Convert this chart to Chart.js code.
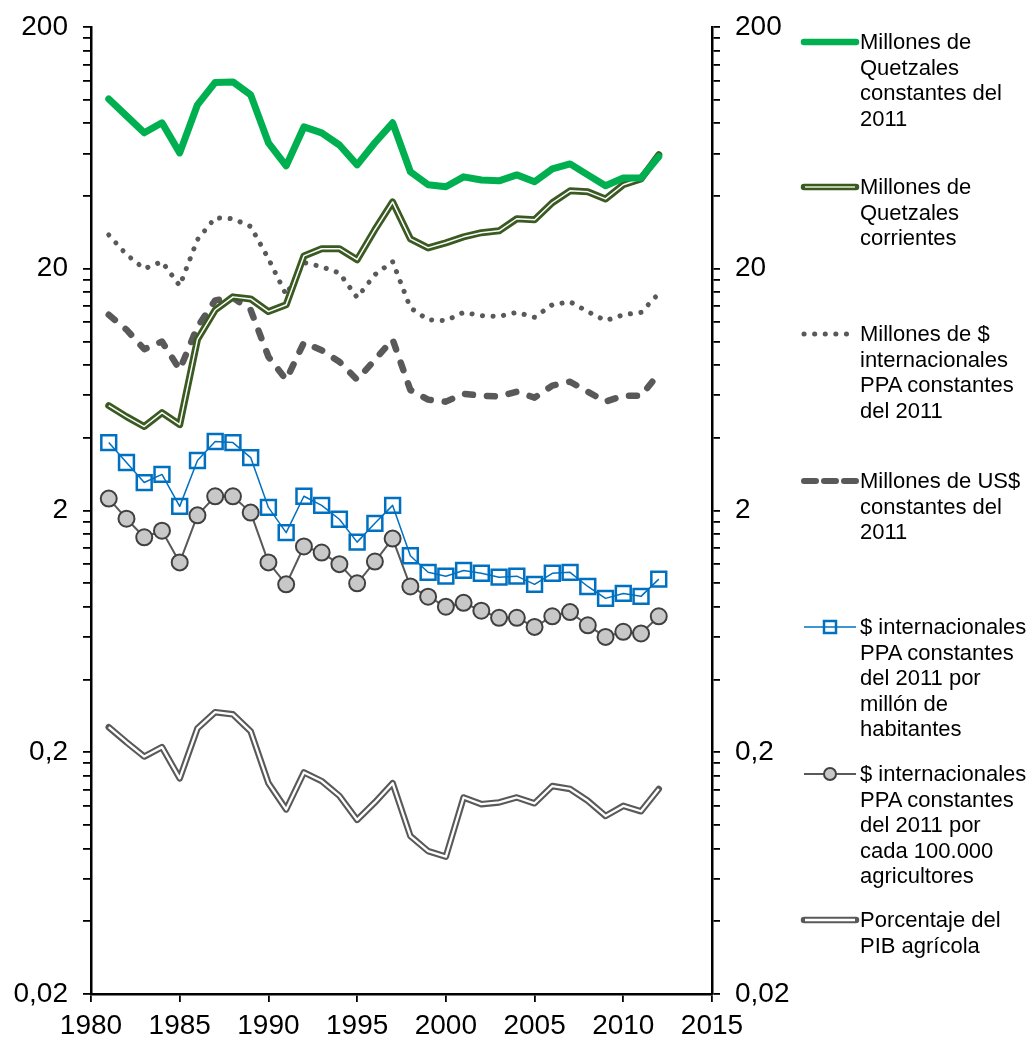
<!DOCTYPE html>
<html>
<head>
<meta charset="utf-8">
<script src="https://cdn.jsdelivr.net/npm/chart.js@4"></script>
<style>
  body { margin: 0; background: #fff; }
  #wrap { position: relative; width: 1035px; height: 1041px; }
  #chart { position: absolute; left: 0; top: 0; }
  .leg { position: absolute; left: 860px; width: 175px; font: 22px "Liberation Sans", Arial, Helvetica, sans-serif; line-height: 25.6px; color: #000; }
  .sw { position: absolute; left: 798px; width: 62px; height: 20px; }
</style>
</head>
<body>
<div id="wrap">
  <canvas id="chart" width="1035" height="1041"></canvas>
</div>
<script>
// años
const years = [1981, 1982, 1983, 1984, 1985, 1986, 1987, 1988, 1989, 1990,
  1991, 1992, 1993, 1994, 1995, 1996, 1997, 1998, 1999, 2000,
  2001, 2002, 2003, 2004, 2005, 2006, 2007, 2008, 2009, 2010, 2011, 2012];

// Millones de Quetzales constantes del 2011
const qConst = [100.8, 85.8, 73, 80.3, 60.3, 95.3, 118, 118.5, 104.8, 66.4,
  53.3, 77.2, 73, 65, 53.8, 66.4, 80.3, 50.4, 44.5, 43.7,
  48, 46.6, 46.2, 48.9, 45.8, 51.8, 54.3, 48.9, 44.1, 47.5, 47.5, 58.1];
// Millones de Quetzales corrientes
const qCorr = [5.43, 4.89, 4.45, 5.08, 4.53, 10.2, 13.5, 15.3, 15.0, 13.3,
  14.2, 22.6, 24.2, 24.2, 21.8, 29.0, 37.8, 26.6, 24.4, 25.6,
  27.1, 28.2, 28.7, 32.2, 31.9, 37.5, 42.0, 41.6, 38.9, 44.5, 47.1, 59.2];
// Millones de $ internacionales PPA constantes del 2011
const ppaMill = [27.6, 22.9, 20, 21.4, 17.0, 26.4, 32.5, 32.2, 29.9, 22.0,
  15.6, 21.2, 20.4, 19.2, 15.2, 18.9, 21.4, 13.8, 12.3, 12.2,
  13.2, 12.8, 12.7, 13.2, 12.6, 14.2, 14.6, 13.3, 12.2, 12.9, 13.2, 15.8];
// Millones de US$ constantes del 2011
const usdConst = [12.9, 11.2, 9.3, 10.0, 7.65, 11.5, 14.8, 15.2, 13.5, 8.65,
  6.95, 9.9, 9.2, 8.25, 6.95, 8.4, 10.2, 6.3, 5.75, 5.64,
  6.08, 5.97, 5.92, 6.2, 5.86, 6.57, 6.82, 6.2, 5.64, 5.97, 5.97, 7.36];
// $ internacionales PPA por millón de habitantes
const ppaHab = [3.82, 3.16, 2.61, 2.82, 2.08, 3.22, 3.86, 3.82, 3.31, 2.06,
  1.62, 2.29, 2.10, 1.84, 1.48, 1.77, 2.10, 1.30, 1.11, 1.07,
  1.13, 1.10, 1.06, 1.07, 0.99, 1.10, 1.11, 0.97, 0.866, 0.908, 0.883, 1.04];
// $ internacionales PPA por cada 100.000 agricultores
const ppaAgr = [2.24, 1.85, 1.55, 1.65, 1.22, 1.91, 2.29, 2.29, 1.96, 1.22,
  0.99, 1.42, 1.34, 1.20, 1.0, 1.23, 1.53, 0.97, 0.88, 0.80,
  0.83, 0.77, 0.72, 0.72, 0.66, 0.73, 0.76, 0.67, 0.60, 0.63, 0.62, 0.73];
// Porcentaje del PIB agrícola
const pibAgr = [0.254, 0.220, 0.192, 0.210, 0.156, 0.251, 0.293, 0.287, 0.244, 0.149,
  0.116, 0.165, 0.152, 0.132, 0.105, 0.124, 0.149, 0.090, 0.078, 0.074,
  0.130, 0.122, 0.124, 0.130, 0.123, 0.145, 0.141, 0.126, 0.109, 0.120, 0.114, 0.141];

// marcas del eje
const majorTicks = [0.02, 0.2, 2, 20, 200];
const majorLabels = ["0,02", "0,2", "2", "20", "200"];
const xTicks = [1980, 1985, 1990, 1995, 2000, 2005, 2010, 2015];

const legendItems = [
  { y: 42, text: "Millones de<br>Quetzales<br>constantes del<br>2011" },
  { y: 187, text: "Millones de<br>Quetzales<br>corrientes" },
  { y: 334, text: "Millones de $<br>internacionales<br>PPA constantes<br>del 2011" },
  { y: 481, text: "Millones de US$<br>constantes del<br>2011" },
  { y: 627, text: "$ internacionales<br>PPA constantes<br>del 2011 por<br>millón de<br>habitantes" },
  { y: 774, text: "$ internacionales<br>PPA constantes<br>del 2011 por<br>cada 100.000<br>agricultores" },
  { y: 920, text: "Porcentaje del<br>PIB agrícola" }
];

const swatches = [
  '<line x1="6" y1="10" x2="58" y2="10" stroke="#00B050" stroke-width="6.5" stroke-linecap="round"/>',
  '<line x1="6" y1="10" x2="58" y2="10" stroke="#3A5A22" stroke-width="6.5" stroke-linecap="round"/><line x1="7" y1="10" x2="57" y2="10" stroke="#B8CAA8" stroke-width="2"/>',
  '<line x1="6" y1="10" x2="58" y2="10" stroke="#595959" stroke-width="5" stroke-linecap="round" stroke-dasharray="0.1 10.5"/>',
  '<line x1="6" y1="10" x2="58" y2="10" stroke="#595959" stroke-width="6" stroke-linecap="round" stroke-dasharray="12 8"/>',
  '<line x1="6" y1="10" x2="58" y2="10" stroke="#0070C0" stroke-width="1.5"/><rect x="26" y="4" width="12" height="12" fill="none" stroke="#0070C0" stroke-width="2.5"/>',
  '<line x1="6" y1="10" x2="58" y2="10" stroke="#595959" stroke-width="2"/><circle cx="32" cy="10" r="6" fill="#C8C8C8" stroke="#404040" stroke-width="2"/>',
  '<line x1="6" y1="10" x2="58" y2="10" stroke="#595959" stroke-width="6.5" stroke-linecap="round"/><line x1="7" y1="10" x2="57" y2="10" stroke="#fff" stroke-width="2.5"/>'
];

const wrap = document.getElementById('wrap');
legendItems.forEach(function (item, i) {
  const sw = document.createElement('div');
  sw.className = 'sw';
  sw.style.top = (item.y - 10) + 'px';
  sw.innerHTML = '<svg width="62" height="20">' + swatches[i] + '</svg>';
  wrap.appendChild(sw);
  const t = document.createElement('div');
  t.className = 'leg';
  t.style.top = (item.y - 13) + 'px';
  t.innerHTML = item.text;
  wrap.appendChild(t);
});

function pts(arr) {
  return years.map((yr, i) => ({ x: yr, y: arr[i] }));
}

function buildLogTicks(scale) {
  const list = [];
  for (let i = 0; i < majorTicks.length - 1; i++) {
    list.push({ value: majorTicks[i] });
    for (let k = 2; k <= 9; k++) list.push({ value: majorTicks[i] * k });
  }
  list.push({ value: majorTicks[majorTicks.length - 1] });
  scale.ticks = list;
}

function logLabel(value) {
  const i = majorTicks.indexOf(value);
  return i >= 0 ? majorLabels[i] : '';
}

const font = { family: '"Liberation Sans", Arial, Helvetica, sans-serif', size: 28 };

function yAxis(pos, width) {
  return {
    type: 'logarithmic',
    position: pos,
    min: 0.02,
    max: 200,
    afterBuildTicks: buildLogTicks,
    afterFit: function (scale) {
      scale.width = width;
      // que las etiquetas no empujen el área del gráfico
      scale.paddingTop = 0;
      scale.paddingBottom = 0;
    },
    ticks: { autoSkip: false, callback: logLabel, color: '#000', font: font, padding: 15 },
    grid: { drawOnChartArea: false, tickLength: 8, color: '#000', lineWidth: 1.8 },
    border: { color: '#000', width: 2.5 }
  };
}

const lineBase = { pointRadius: 0, tension: 0, borderJoinStyle: 'round', fill: false };

const ctx = document.getElementById('chart').getContext('2d');
const chart = new Chart(ctx, {
  type: 'line',
  data: {
    datasets: [
      Object.assign({}, lineBase, { label: 'Millones de Quetzales constantes del 2011', data: pts(qConst), borderColor: '#00B050', borderWidth: 7, borderCapStyle: 'round', order: 1 }),
      Object.assign({}, lineBase, { label: 'corrientes (borde)', data: pts(qCorr), borderColor: '#3A5A22', borderWidth: 7, borderCapStyle: 'round', order: 3 }),
      Object.assign({}, lineBase, { label: 'corrientes (centro)', data: pts(qCorr), borderColor: '#ffffff', borderWidth: 1.5, order: 2 }),
      Object.assign({}, lineBase, { label: 'Millones de $ PPA', data: pts(ppaMill), borderColor: '#595959', borderWidth: 5, borderCapStyle: 'round', borderDash: [0.1, 10.5], order: 4 }),
      Object.assign({}, lineBase, { label: 'Millones de US$', data: pts(usdConst), borderColor: '#595959', borderWidth: 6.5, borderCapStyle: 'round', borderDash: [8, 14], order: 5 }),
      Object.assign({}, lineBase, { label: '$ PPA por millón de habitantes', data: pts(ppaHab), borderColor: '#0070C0', borderWidth: 1.5, pointStyle: 'rect', pointRadius: 10.5, pointBorderWidth: 2.5, pointBorderColor: '#0070C0', pointBackgroundColor: 'rgba(255,255,255,0)', order: 6 }),
      Object.assign({}, lineBase, { label: '$ PPA por cada 100.000 agricultores', data: pts(ppaAgr), borderColor: '#595959', borderWidth: 2, pointStyle: 'circle', pointRadius: 8, pointBorderWidth: 2, pointBorderColor: '#404040', pointBackgroundColor: '#C8C8C8', order: 7 }),
      Object.assign({}, lineBase, { label: 'PIB (borde)', data: pts(pibAgr), borderColor: '#595959', borderWidth: 6.5, borderCapStyle: 'round', order: 9 }),
      Object.assign({}, lineBase, { label: 'PIB (centro)', data: pts(pibAgr), borderColor: '#ffffff', borderWidth: 2.3, order: 8 })
    ]
  },
  options: {
    responsive: false,
    animation: false,
    events: [],
    layout: { padding: { top: 27, left: 0, right: 0, bottom: 0 } },
    plugins: { legend: { display: false }, tooltip: { enabled: false } },
    scales: {
      x: {
        type: 'linear',
        min: 1980,
        max: 2015,
        afterBuildTicks: function (scale) { scale.ticks = xTicks.map(v => ({ value: v })); },
        afterFit: function (scale) { scale.height = 47; },
        ticks: { autoSkip: false, callback: v => String(v), color: '#000', font: font, padding: 7, maxRotation: 0 },
        grid: { drawOnChartArea: false, tickLength: 8, color: '#000', lineWidth: 1.8 },
        border: { color: '#000', width: 2.5 }
      },
      y: yAxis('left', 91),
      y2: yAxis('right', 323)
    }
  }
});
</script>
</body>
</html>
